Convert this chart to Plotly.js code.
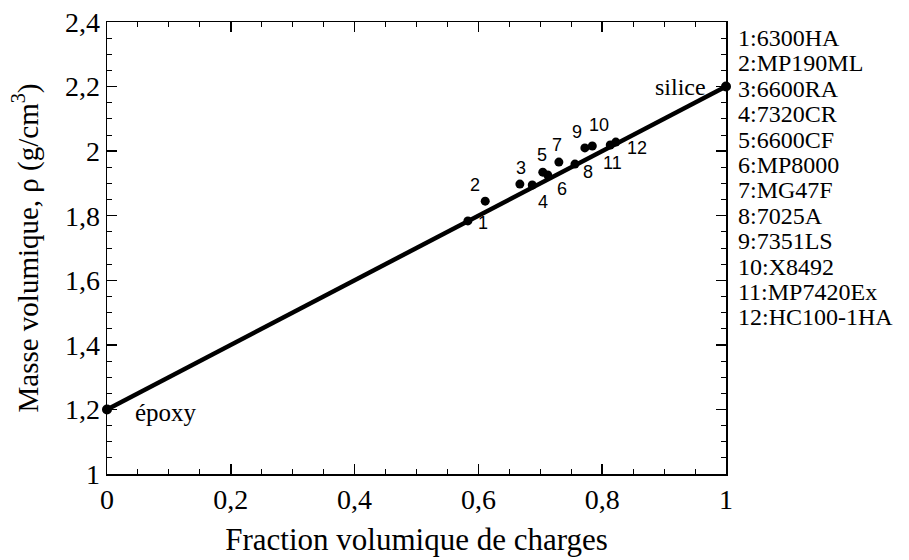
<!DOCTYPE html>
<html>
<head>
<meta charset="utf-8">
<script src="https://cdn.plot.ly/plotly-3.0.1.min.js"></script>
<style>html,body{margin:0;padding:0;background:#fff;}#chart{width:909px;height:560px;}</style>
</head>
<body>
<div id="chart"></div>
<script>
// Data
var sampleIds = ["1","2","3","4","5","6","7","8","9","10","11","12"];
var sampleNames = ["6300HA","MP190ML","6600RA","7320CR","6600CF","MP8000","MG47F","7025A","7351LS","X8492","MP7420Ex","HC100-1HA"];
var fraction = [0.583,0.611,0.667,0.687,0.704,0.712,0.730,0.756,0.772,0.784,0.813,0.822];
var density  = [1.784,1.845,1.898,1.895,1.935,1.926,1.966,1.960,2.010,2.016,2.019,2.028];
var endNames = ["époxy","silice"];
var endFraction = [0, 1];
var endDensity = [1.2, 2.2];
var fitX = [0, 1];
var fitY = [1.2, 2.2];
var xTickVals = [0,0.2,0.4,0.6,0.8,1];
var xTickText = ["0","0,2","0,4","0,6","0,8","1"];
var yTickVals = [1,1.2,1.4,1.6,1.8,2,2.2,2.4];
var yTickText = ["1","1,2","1,4","1,6","1,8","2","2,2","2,4"];

// label pixel offsets (style)
var labelShift = [[15,-2],[-10,16],[1,16],[11,-17],[-1,17],[14,-14],[-2,17],[13,-8],[-8,16],[7,21],[2,-18],[21,-6]];

var serif = "Liberation Serif, Times New Roman, serif";
var sans = "Liberation Sans, Arial, sans-serif";

var traces = [
  {x: fitX, y: fitY, mode: "lines", line: {color: "#000", width: 4.5}, hoverinfo: "skip", cliponaxis: false},
  {x: fraction, y: density, mode: "markers", marker: {color: "#000", size: 9}, cliponaxis: false},
  {x: endFraction, y: endDensity, mode: "markers", marker: {color: "#000", size: 10}, cliponaxis: false}
];

var annotations = [];
for (var i = 0; i < sampleIds.length; i++) {
  annotations.push({x: fraction[i], y: density[i], xref: "x", yref: "y", text: sampleIds[i],
    showarrow: false, xshift: labelShift[i][0], yshift: labelShift[i][1],
    font: {family: sans, size: 18, color: "#000"}});
}
annotations.push({x: endFraction[0], y: endDensity[0], xref: "x", yref: "y", text: endNames[0],
  showarrow: false, xanchor: "left", xshift: 26, yshift: -3, font: {family: serif, size: 25, color: "#000"}});
annotations.push({x: endFraction[1], y: endDensity[1], xref: "x", yref: "y", text: endNames[1],
  showarrow: false, xanchor: "right", xshift: -18, yshift: 0, font: {family: serif, size: 24, color: "#000"}});

var plotTop = 22, plotH = 452;
for (var j = 0; j < sampleIds.length; j++) {
  var py = 38 + j * 25.4;
  annotations.push({x: 1.016, y: (plotTop + plotH - py) / plotH, xref: "paper", yref: "paper",
    text: sampleIds[j] + ":" + sampleNames[j], showarrow: false, xanchor: "left", yanchor: "middle",
    font: {family: serif, size: 24, color: "#000"}});
}

var axisCommon = {
  showline: true, linecolor: "#000", linewidth: 1.5, mirror: "ticks",
  ticks: "inside", ticklen: 10, tickwidth: 1.5, tickcolor: "#000",
  showgrid: false, zeroline: false,
  tickfont: {family: serif, size: 28, color: "#000"}
};

var layout = {
  width: 909, height: 560,
  margin: {l: 107, r: 183, t: 22, b: 86},
  paper_bgcolor: "#fff", plot_bgcolor: "#fff",
  showlegend: false,
  xaxis: Object.assign({}, axisCommon, {
    range: [0, 1], tickvals: xTickVals, ticktext: xTickText,
    minor: {dtick: 0.05, ticks: "inside", ticklen: 5, tickwidth: 1, tickcolor: "#000"},
    title: {text: "Fraction volumique de charges", font: {family: serif, size: 31, color: "#000"}, standoff: 14}
  }),
  yaxis: Object.assign({}, axisCommon, {
    range: [1, 2.4], tickvals: yTickVals, ticktext: yTickText,
    minor: {dtick: 0.05, ticks: "inside", ticklen: 5, tickwidth: 1, tickcolor: "#000"},
    title: {text: "Masse volumique, ρ (g/cm<sup>3</sup>)", font: {family: serif, size: 29, color: "#000"}, standoff: 18}
  }),
  annotations: annotations
};

Plotly.newPlot("chart", traces, layout, {displayModeBar: false, staticPlot: true});
</script>
</body>
</html>
